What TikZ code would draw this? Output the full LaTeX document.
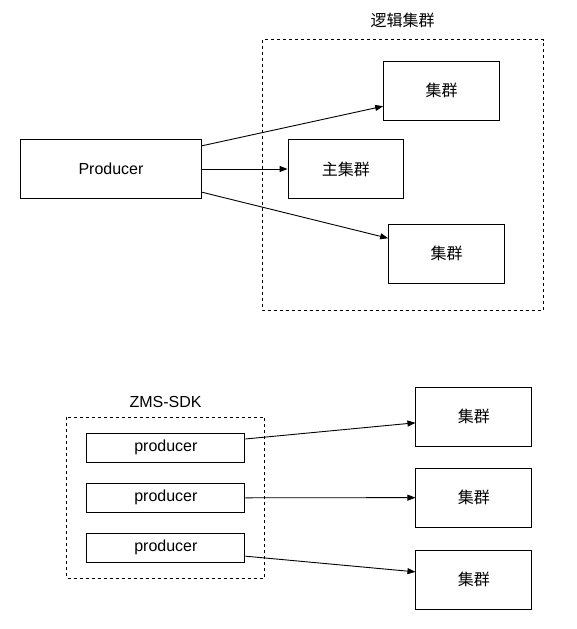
\documentclass[tikz,border=0pt]{standalone}
\usepackage{fontspec}
\setmainfont{Liberation Sans}
\newfontfamily\cjk{Noto Sans CJK SC}
\usetikzlibrary{arrows.meta,calc}
\begin{document}
\begin{tikzpicture}[x=1pt,y=-1pt,
  box/.style={draw=black, line width=0.9pt, fill=white, inner sep=0pt, font=\fontsize{16}{18}\selectfont},
  clbox/.style={box, minimum width=116pt, minimum height=59pt},
  pbox/.style={box, minimum width=158pt, minimum height=29pt},
  group/.style={draw=black, line width=0.9pt, dash pattern=on 3pt off 3pt},
  lbl/.style={inner sep=0pt, font=\fontsize{16}{18}\selectfont},
  arr/.style={line width=0.9pt, -{Triangle[length=8pt,width=6pt]}}]
\useasboundingbox (0,0) rectangle (577,629);
\fill[white] (0,0) rectangle (577,629);
% top part
\draw[group] (262,39.7) rectangle (543.5,310);
\node[lbl] (lg) at (402.6,20) {\cjk 逻辑集群};
\node[box, minimum width=181pt, minimum height=58.6pt] (prod) at (111,169) {Producer};
\node[box, minimum width=115.5pt, minimum height=58.6pt] (main) at (345.75,169) {\cjk 主集群};
\node[clbox] (c1) at (441.6,90.65) {\cjk 集群};
\node[clbox] (c3) at (446.6,253.8) {\cjk 集群};
\draw[arr] ($(prod.north east)!0.11!(prod.south east)$) -- ($(c1.north west)!0.76!(c1.south west)$);
\draw[arr] (prod.east) -- (main.west);
\draw[arr] ($(prod.north east)!0.89!(prod.south east)$) -- ($(c3.north west)!0.24!(c3.south west)$);
% bottom part
\draw[group] (66.7,417.3) rectangle (264.8,578.3);
\node[lbl] (lz) at (165.5,401.5) {ZMS-SDK};
\node[pbox] (p1) at (165.9,447.65) {producer};
\node[pbox] (p2) at (165.9,497.8) {producer};
\node[pbox] (p3) at (165.9,547.8) {producer};
\node[clbox] (r1) at (473.9,416.8) {\cjk 集群};
\node[clbox] (r2) at (473.9,497.65) {\cjk 集群};
\node[clbox] (r3) at (473.9,579.65) {\cjk 集群};
\draw[arr] ($(p1.north east)!0.21!(p1.south east)$) -- ($(r1.north west)!0.6!(r1.south west)$);
\draw[arr] (p2.east) -- (r2.west);
\draw[arr] ($(p3.north east)!0.78!(p3.south east)$) -- ($(r3.north west)!0.37!(r3.south west)$);
\end{tikzpicture}
\end{document}
